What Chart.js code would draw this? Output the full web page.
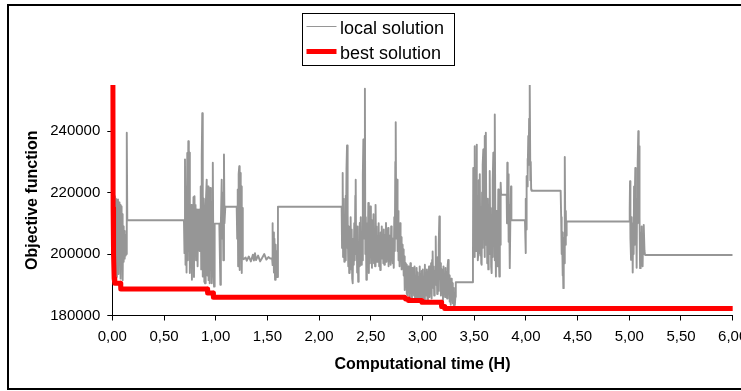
<!DOCTYPE html>
<html>
<head>
<meta charset="utf-8">
<script src="https://cdn.jsdelivr.net/npm/chart.js"></script>
<style>
html,body{margin:0;padding:0;background:#fff;}
canvas{display:block;}
</style>
</head>
<body>
<canvas id="c" width="741" height="391"></canvas>
<script>
// ---------------- data ----------------
const seriesNames = ['local solution', 'best solution'];
const xTitle = 'Computational time (H)';
const yTitle = 'Objective function';
const xTickValues = [0, 0.5, 1, 1.5, 2, 2.5, 3, 3.5, 4, 4.5, 5, 5.5, 6];
const xTickLabels = ['0,00','0,50','1,00','1,50','2,00','2,50','3,00','3,50','4,00','4,50','5,00','5,50','6,00'];
const yTickValues = [180000, 200000, 220000, 240000];

// local solution: time (H)
const localTime = [
 0.000,0.005,0.010,0.015,0.020,0.025,0.030,0.035,0.040,0.045,
 0.050,0.055,0.060,0.065,0.070,0.075,0.080,0.085,0.090,0.095,
 0.100,0.105,0.110,0.115,0.120,0.125,0.130,0.135,0.138,0.142,
 0.145,0.693,
 0.698,0.703,0.708,0.713,0.718,0.725,0.730,0.735,0.740,0.745,
 0.750,0.755,0.760,0.765,0.770,0.775,0.780,0.785,0.790,0.795,
 0.800,0.805,0.810,0.815,0.820,0.825,0.830,0.840,0.845,0.850,
 0.855,0.860,0.865,0.870,0.873,0.877,0.885,0.890,0.897,0.903,
 0.913,0.920,0.926,0.931,0.936,0.942,0.947,0.953,0.958,0.962,
 0.967,0.972,0.978,0.984,0.990,1.035,1.040,1.045,1.050,1.058,
 1.063,1.068,1.074,1.080,1.085,1.093,1.203,
 1.208,1.213,1.217,1.222,1.228,1.232,1.237,1.242,1.247,1.252,
 1.257,1.262,1.270,1.290,1.300,1.320,1.340,1.360,1.370,1.380,
 1.390,1.410,1.430,1.450,1.470,1.490,1.510,1.530,1.545,1.548,
 1.553,1.558,1.563,1.568,1.574,1.580,1.585,1.590,1.596,1.602,
 2.218,
 2.222,2.228,2.232,2.236,2.240,2.244,2.248,2.252,2.256,2.260,
 2.265,2.270,2.274,2.278,2.282,2.287,2.291,2.296,2.300,2.305,
 2.310,2.315,2.320,2.325,2.330,2.335,2.340,2.345,2.350,2.354,
 2.358,2.363,2.368,2.373,2.378,2.383,2.388,2.393,2.398,2.403,
 2.408,2.413,2.418,2.423,2.428,2.433,2.438,2.443,2.447,2.452,
 2.457,2.462,2.466,2.470,2.476,2.481,2.486,2.491,2.496,2.501,
 2.506,2.511,2.516,2.521,2.526,2.531,2.536,2.541,2.546,2.551,
 2.556,2.561,2.566,2.571,2.576,2.581,2.586,2.591,2.596,2.601,
 2.606,2.611,2.616,2.621,2.626,2.631,2.636,2.641,2.647,2.652,
 2.657,2.662,2.667,2.672,2.677,2.682,2.687,2.692,2.697,2.702,
 2.707,2.712,2.717,2.722,2.727,2.732,2.737,2.741,2.745,2.750,
 2.754,2.759,2.764,2.768,2.773,2.778,2.783,2.788,2.793,2.798,
 2.803,2.808,2.813,2.818,2.823,2.828,2.833,2.838,2.843,2.848,
 2.853,2.858,2.863,2.868,2.873,2.878,2.883,2.888,2.893,2.898,
 2.903,2.908,2.913,2.918,2.923,2.928,2.933,2.938,2.943,2.948,
 2.953,2.958,2.963,2.968,2.973,2.978,2.983,2.988,2.993,2.998,
 3.003,3.008,3.013,3.018,3.023,3.028,3.033,3.038,3.043,3.048,
 3.053,3.058,3.063,3.068,3.073,3.078,3.083,3.088,3.093,3.098,
 3.103,3.108,3.113,3.118,3.123,3.128,3.132,3.137,3.142,3.147,
 3.152,3.157,3.163,3.168,3.173,3.178,3.183,3.188,3.193,3.198,
 3.203,3.208,3.213,3.218,3.223,3.228,3.233,3.238,3.243,3.248,
 3.253,3.258,3.263,3.268,3.273,3.278,3.283,3.288,3.293,3.298,
 3.303,3.308,3.313,3.318,3.322,3.485,
 3.488,3.491,3.495,3.499,3.503,3.507,3.511,3.515,3.519,3.523,
 3.527,3.531,3.535,3.540,3.544,3.548,3.552,3.556,3.560,3.564,
 3.568,3.572,3.576,3.580,3.584,3.588,3.592,3.596,3.600,3.604,
 3.608,3.611,3.614,3.618,3.622,3.626,3.631,3.636,3.640,3.644,
 3.648,3.652,3.656,3.660,3.664,3.669,3.673,3.677,3.681,3.685,
 3.689,3.693,3.697,3.701,3.705,3.710,3.714,3.718,3.722,3.727,
 3.733,3.738,3.743,3.748,3.752,3.756,3.760,3.814,3.817,3.820,
 3.824,3.828,3.833,3.838,3.842,3.846,3.850,3.856,3.860,3.991,
 3.995,3.997,4.000,4.004,4.007,4.011,4.015,4.019,4.023,4.027,
 4.031,4.035,4.039,4.043,4.047,4.051,4.055,4.336,4.341,4.346,
 4.350,4.354,4.358,4.362,4.366,4.370,4.374,4.378,4.382,4.386,
 4.390,4.394,5.000,
 5.004,5.007,5.011,5.017,5.021,5.025,5.029,5.033,5.037,5.042,
 5.046,5.050,5.054,5.058,5.062,5.066,5.071,5.075,5.079,5.083,
 5.087,5.091,5.094,5.097,5.101,5.104,5.108,5.112,5.116,5.120,
 5.124,5.129,5.133,5.137,5.142,5.147,5.152,6.000
];

// local solution: objective function
const localValue = [
 216000,219500,196000,219000,194000,218800,199000,218000,192500,217500,
 197000,217800,193500,216800,199500,216000,192000,215500,198500,213000,
 191500,209000,197500,207500,198500,206000,199500,205000,200000,239500,
 211000,211000,
 200300,230800,196500,222000,194000,232900,198000,236700,201000,233000,
 193800,205000,199000,216000,191600,212000,195500,218500,192500,218800,
 206000,216000,198000,214400,214400,196000,214400,214400,201000,214400,
 222000,195000,232000,245800,200000,192700,218000,191000,190500,215000,
 224200,193000,222000,191500,214000,190500,221500,195000,217000,190500,
 210000,229700,196000,189400,209900,209900,200000,190000,210000,224200,
 205000,220000,198000,232400,210000,215400,215400,
 205000,221000,196000,226000,228600,194800,226400,199000,222000,193800,
 215000,198700,198300,198900,197800,199200,197600,199800,197900,200300,
 198000,199500,197600,198800,200000,198200,199000,198500,198700,210000,
 196400,207000,194000,205000,191600,203000,193000,201000,192500,215400,
 215400,
 202000,226400,199000,200300,218000,197500,212000,201000,219000,198000,
 228000,235300,202000,213000,196000,209000,193800,206000,195000,212000,
 197000,208000,192000,190500,205000,196500,210000,198000,219000,224200,
 200000,207000,194000,209000,191000,204000,196000,210100,199000,212000,
 196500,207000,198000,226000,237300,205000,222000,253800,200000,212000,
 191600,196000,210000,199000,216600,193800,208000,197000,215500,199000,
 211000,195500,209000,201000,213000,197000,208000,196000,216000,201000,
 209000,197500,206000,199500,210000,196000,204000,194800,207000,198500,
 209000,200000,205500,197000,208000,196500,206000,199000,210100,197500,
 204000,199500,208500,196000,206000,198500,203000,196500,209000,198000,
 205000,197000,202500,195500,212000,201000,230000,242900,214400,205000,
 224200,201000,214000,198000,208000,196000,210000,199000,205500,195000,
 203000,197000,201500,193000,199200,188300,197000,189500,196500,187000,
 195000,186500,196000,189000,194500,186000,197000,188500,193500,185600,
 195500,187500,194000,186500,196000,185000,193000,188000,195500,186000,
 194000,184500,192500,187000,196000,185500,193500,188000,194500,186000,
 195000,187500,192500,185000,196500,188500,193000,186500,195000,184500,
 194000,188000,196000,186000,193500,187500,197000,185500,198100,200800,
 189000,196000,186500,194500,190000,205700,191000,196500,187000,199000,
 188000,203000,212200,192000,197000,186500,195000,188000,193500,185000,
 196000,188500,192500,186000,195500,187000,194000,185500,196000,198100,
 187000,193000,184500,191000,183500,192000,186000,190500,184000,189000,
 183000,187500,183400,186000,190800,190800,
 200000,228000,203000,221000,199000,235100,204000,226000,201000,235600,
 207000,219000,198000,200300,224000,201000,216000,226000,199500,214000,
 197000,196500,220000,202000,229000,234000,205000,224000,199000,238400,
 210000,222000,239500,203000,215000,197000,218000,195000,212000,200000,
 221000,227000,201000,215000,196000,193800,212000,199000,224000,233000,
 205000,218000,198000,245400,207000,192700,214000,198000,209000,196000,
 221000,200000,192700,210000,203000,223200,219300,219300,210000,229700,
 214000,226000,204000,216000,199000,195400,212000,222000,211000,211000,
 205000,200300,218000,208000,225300,222000,231000,226000,238400,229000,
 244000,236000,256000,224000,230000,221000,220600,220600,212000,200000,
 207000,193000,203000,188900,205000,197000,220000,231600,203000,214000,
 206000,210600,210600,
 215000,223700,205000,198100,212000,200000,208000,194000,210000,200000,
 222000,203000,216000,228000,207000,214000,195500,218000,210000,230000,
 240000,215000,226000,235100,212000,195400,205000,198000,207000,209000,
 199000,196000,206000,200000,209500,201000,199700,199700
];

// best solution: time (H) and objective function
const bestTime = [0.006, 0.008, 0.012, 0.018, 0.024, 0.080, 0.082, 0.918, 0.922, 0.975, 0.978,
                  2.830, 2.835, 2.860, 2.865, 2.990, 2.995, 3.180, 3.185, 3.210, 3.215, 6.000];
const bestValue = [256000, 215000, 200000, 192000, 190500, 190500, 188600, 188600, 187300, 187300, 185900,
                   185900, 185400, 185400, 184900, 184900, 184300, 184300, 182900, 182900, 182300, 182300];

// ---------------- chart ----------------
const FONT = "'Liberation Sans', Arial, Helvetica, sans-serif";
Chart.defaults.font.family = FONT;
Chart.defaults.color = '#000';

const seriesColors = ['#969696', '#ff0000'];
const legendLineWidths = [1, 5];

const framePlugin = {
  id: 'frame',
  beforeDraw(chart) {
    const c = chart.ctx;
    c.save();
    c.fillStyle = '#fff';
    c.fillRect(0, 0, chart.width, chart.height);
    c.restore();
  },
  afterDraw(chart) {
    const c = chart.ctx;
    c.save();
    c.strokeStyle = '#000';
    c.lineWidth = 2;
    c.strokeRect(8, 5, 745, 384);
    c.restore();
  }
};

const boxLegend = {
  id: 'boxLegend',
  afterDraw(chart) {
    const c = chart.ctx;
    c.save();
    c.fillStyle = '#fff';
    c.fillRect(302.5, 13.5, 152, 52);
    c.strokeStyle = '#000';
    c.lineWidth = 1;
    c.strokeRect(302.5, 13.5, 152, 52);
    const rows = [26.5, 51.5];
    chart.data.datasets.forEach((ds, i) => {
      const y = rows[i];
      c.strokeStyle = ds.borderColor;
      c.lineWidth = legendLineWidths[i];
      c.lineCap = 'butt';
      c.beginPath();
      c.moveTo(306.5, y);
      c.lineTo(336.5, y);
      c.stroke();
      c.fillStyle = '#000';
      c.font = '18px ' + FONT;
      c.textAlign = 'left';
      c.textBaseline = 'alphabetic';
      c.fillText(ds.label, 340, y + 7.8);
    });
    c.restore();
  }
};

new Chart(document.getElementById('c'), {
  type: 'line',
  data: {
    datasets: [
      {
        label: seriesNames[0],
        data: localTime.map((t, i) => ({x: t, y: localValue[i]})),
        borderColor: seriesColors[0],
        backgroundColor: seriesColors[0],
        borderWidth: 1.9,
        borderJoinStyle: 'round',
        pointRadius: 0,
        tension: 0,
        fill: false,
        order: 2,
        clip: 0
      },
      {
        label: seriesNames[1],
        data: bestTime.map((t, i) => ({x: t, y: bestValue[i]})),
        borderColor: seriesColors[1],
        backgroundColor: seriesColors[1],
        borderWidth: 5,
        borderJoinStyle: 'round',
        pointRadius: 0,
        tension: 0,
        fill: false,
        order: 1,
        clip: {left: 4, top: 0, right: 4, bottom: 4}
      }
    ]
  },
  options: {
    responsive: false,
    animation: false,
    devicePixelRatio: 1,
    layout: {padding: {left: 10, right: 8.3, top: 85, bottom: 0}},
    plugins: {
      legend: {display: false},
      tooltip: {enabled: false}
    },
    scales: {
      x: {
        type: 'linear',
        min: 0,
        max: 6,
        afterBuildTicks: (s) => { s.ticks = xTickValues.map(v => ({value: v})); },
        afterFit: (s) => { s.paddingLeft = 0; s.paddingRight = 0; s.height = 75.5; },
        ticks: {
          callback: (v, i) => xTickLabels[i],
          font: {size: 15},
          color: '#000',
          padding: 7,
          maxRotation: 0,
          autoSkip: false
        },
        grid: {drawOnChartArea: false, drawTicks: true, tickLength: 5, color: '#000', tickColor: '#000'},
        border: {display: true, color: '#000', width: 1},
        title: {display: true, text: xTitle, color: '#000', font: {size: 16, weight: 'bold'}, padding: {top: 0, bottom: 17}}
      },
      y: {
        type: 'linear',
        min: 180000,
        max: 255000,
        afterBuildTicks: (s) => { s.ticks = yTickValues.map(v => ({value: v})); },
        afterFit: (s) => { s.width = 102.3; },
        ticks: {
          callback: (v) => String(v),
          font: {size: 15},
          color: '#000',
          padding: 7
        },
        grid: {drawOnChartArea: false, drawTicks: true, tickLength: 5, color: '#000', tickColor: '#000'},
        border: {display: true, color: '#000', width: 1},
        title: {display: true, text: yTitle, color: '#000', font: {size: 16, weight: 'bold'}, padding: {top: 13, bottom: 0}}
      }
    }
  },
  plugins: [framePlugin, boxLegend]
});
</script>
</body>
</html>
